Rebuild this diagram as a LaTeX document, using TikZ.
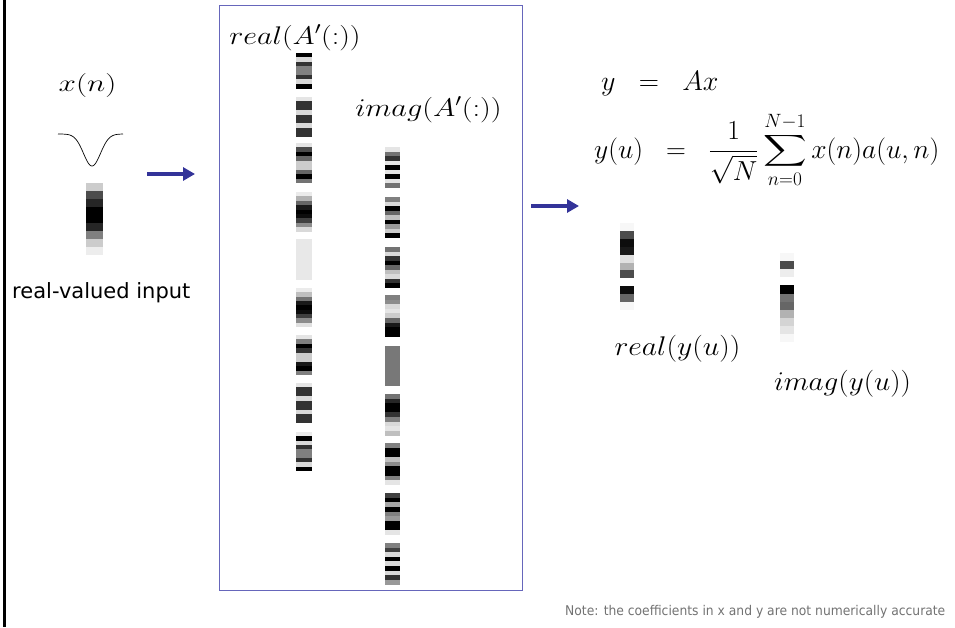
\RequirePackage{fix-cm}
\documentclass[tikz,border=0pt]{standalone}
\usepackage{exscale}
\usepackage{fontspec}
\usepackage{graphicx}
\usetikzlibrary{arrows.meta}
\newfontfamily\vsans{DejaVu Sans}
\newfontfamily\notefont[FakeStretch=0.92]{DejaVu Sans}
\DeclareFontShape{OMX}{cmex}{m}{n}{<->cmex10}{}
\definecolor{boxblue}{RGB}{102,102,187}
\definecolor{arrblue}{RGB}{51,51,153}
\definecolor{notegray}{RGB}{115,115,115}
\newcommand\cellcol[5]{\foreach \dv [count=\k from 0] in {#5}{\fill[black!\dv] (#1,{#2+\k*#4}) rectangle ++(#3,{#4+0.3});}}
\newcommand\flatsum{\mathop{\raisebox{1.5pt}{\scalebox{1.1}[0.8]{$\displaystyle\sum$}}}\limits}
\begin{document}
\begin{tikzpicture}[x=1pt,y=-1pt,
  mathlbl/.style={inner sep=0pt, anchor=base},
  arr/.style={draw=arrblue, line width=3.5pt, -{Triangle[length=12pt,width=13pt]}},
  framebox/.style={draw=boxblue, line width=1.2pt, inner sep=0pt, anchor=north west}]
\fill[white] (0,0) rectangle (955,627);
\useasboundingbox (0,0) rectangle (955,627);
% left rule
\draw[line width=2.3pt] (4.5,0) -- (4.5,627);
% frame
\node[framebox, minimum width=303pt, minimum height=585pt] (box) at (219,5) {};
% input curve
\draw[line width=0.7pt] plot[domain=58:123, samples=90, smooth] (\x, {134+32*exp(-pow((\x-92)/12,2))});
% input bar
\cellcol{86}{183}{17}{8}{20,70,85,100,100,85,50,20,7}
% real column
\cellcol{296}{53}{16}{4.4}{100,15,80,50,50,80,15,100}
\cellcol{296}{97}{16}{4.4}{10,80,80,15,80,80,15,80,80}
\cellcol{296}{143}{16}{4.45}{10,70,100,60,20,20,60,100,55}
\cellcol{296}{192}{16}{4.4}{8,30,60,90,100,95,75,45,15}
\cellcol{296}{239}{16}{41}{9}
\cellcol{296}{288}{16}{4.35}{8,25,55,90,100,95,75,45,12}
\cellcol{296}{335}{16}{4.45}{10,50,100,80,20,20,90,100,50}
\cellcol{296}{383}{16}{4.45}{10,80,80,15,80,80,15,80,80}
\cellcol{296}{432}{16}{4.35}{8,100,15,80,50,50,80,15,100}
% imag column
\cellcol{385}{147}{15}{4.5}{10,55,80,10,100,10,100,10,55}
\cellcol{385}{197}{15}{4.55}{50,15,100,60,25,100,40,20,100}
\cellcol{385}{247}{15}{4.55}{55,15,80,100,60,25,15,80,100}
\cellcol{385}{295}{15}{4.6}{50,45,15,10,20,60,90,100,100}
\cellcol{385}{346}{15}{40}{53}
\cellcol{385}{394}{15}{4.6}{55,85,100,100,80,50,15,10,25}
\cellcol{385}{443}{15}{4.65}{50,100,100,25,45,100,100,50,10}
\cellcol{385}{493}{15}{4.65}{75,100,35,100,50,40,100,100,10}
\cellcol{385}{543}{15}{4.6}{50,75,15,100,15,100,15,80,40}
% output bars
\cellcol{620}{223}{14}{7.9}{3,70,95,90,12,30,70,0,95,60,3}
\cellcol{780}{253}{14}{8.1}{3,70,7,0,100,55,60,30,17,10,3}
% labels
\node[mathlbl] (xn) at (87.5,91) {\fontsize{24}{27}\selectfont\scalebox{1.3}[1]{$x(n)$}};
\node[inner sep=0pt, anchor=base west] (input) at (12,298) {\fontsize{21}{24}\selectfont\vsans real-valued input};
\node[mathlbl] (reA) at (295,44) {\fontsize{25.5}{28}\selectfont\scalebox{1.18}[1]{$real(A'(:))$}};
\node[mathlbl] (imA) at (428.5,116) {\fontsize{25.5}{28}\selectfont\scalebox{1.19}[1]{$imag(A'(:))$}};
\node[inner sep=0pt, anchor=base west] (eq1) at (601,90) {\fontsize{28}{30}\selectfont $y\;\;=\;\;Ax$};
\node[inner sep=0pt, anchor=base west] (eq2) at (594,158) {\fontsize{27.5}{30}\selectfont $\displaystyle y(u)\;\;=\;\;\frac{1}{\sqrt{N}}\flatsum_{n=0}^{N-1}x(n)a(u,n)$};
\node[mathlbl] (rey) at (677.5,355) {\fontsize{27}{30}\selectfont\scalebox{1.1}[1]{$real(y(u))$}};
\node[mathlbl] (imy) at (842.5,390) {\fontsize{27}{30}\selectfont\scalebox{1.08}[1]{$imag(y(u))$}};
\node[inner sep=0pt, anchor=base west, text=notegray] (note) at (565,615) {\fontsize{13.4}{15}\selectfont\notefont Note: the coefficients in x and y are not numerically accurate};
% arrows
\coordinate (a1s) at (147,174);
\coordinate (a1e) at (195,174);
\coordinate (a2s) at (531,206);
\coordinate (a2e) at (579,206);
\draw[arr] (a1s) -- (a1e);
\draw[arr] (a2s) -- (a2e);
\end{tikzpicture}
\end{document}
